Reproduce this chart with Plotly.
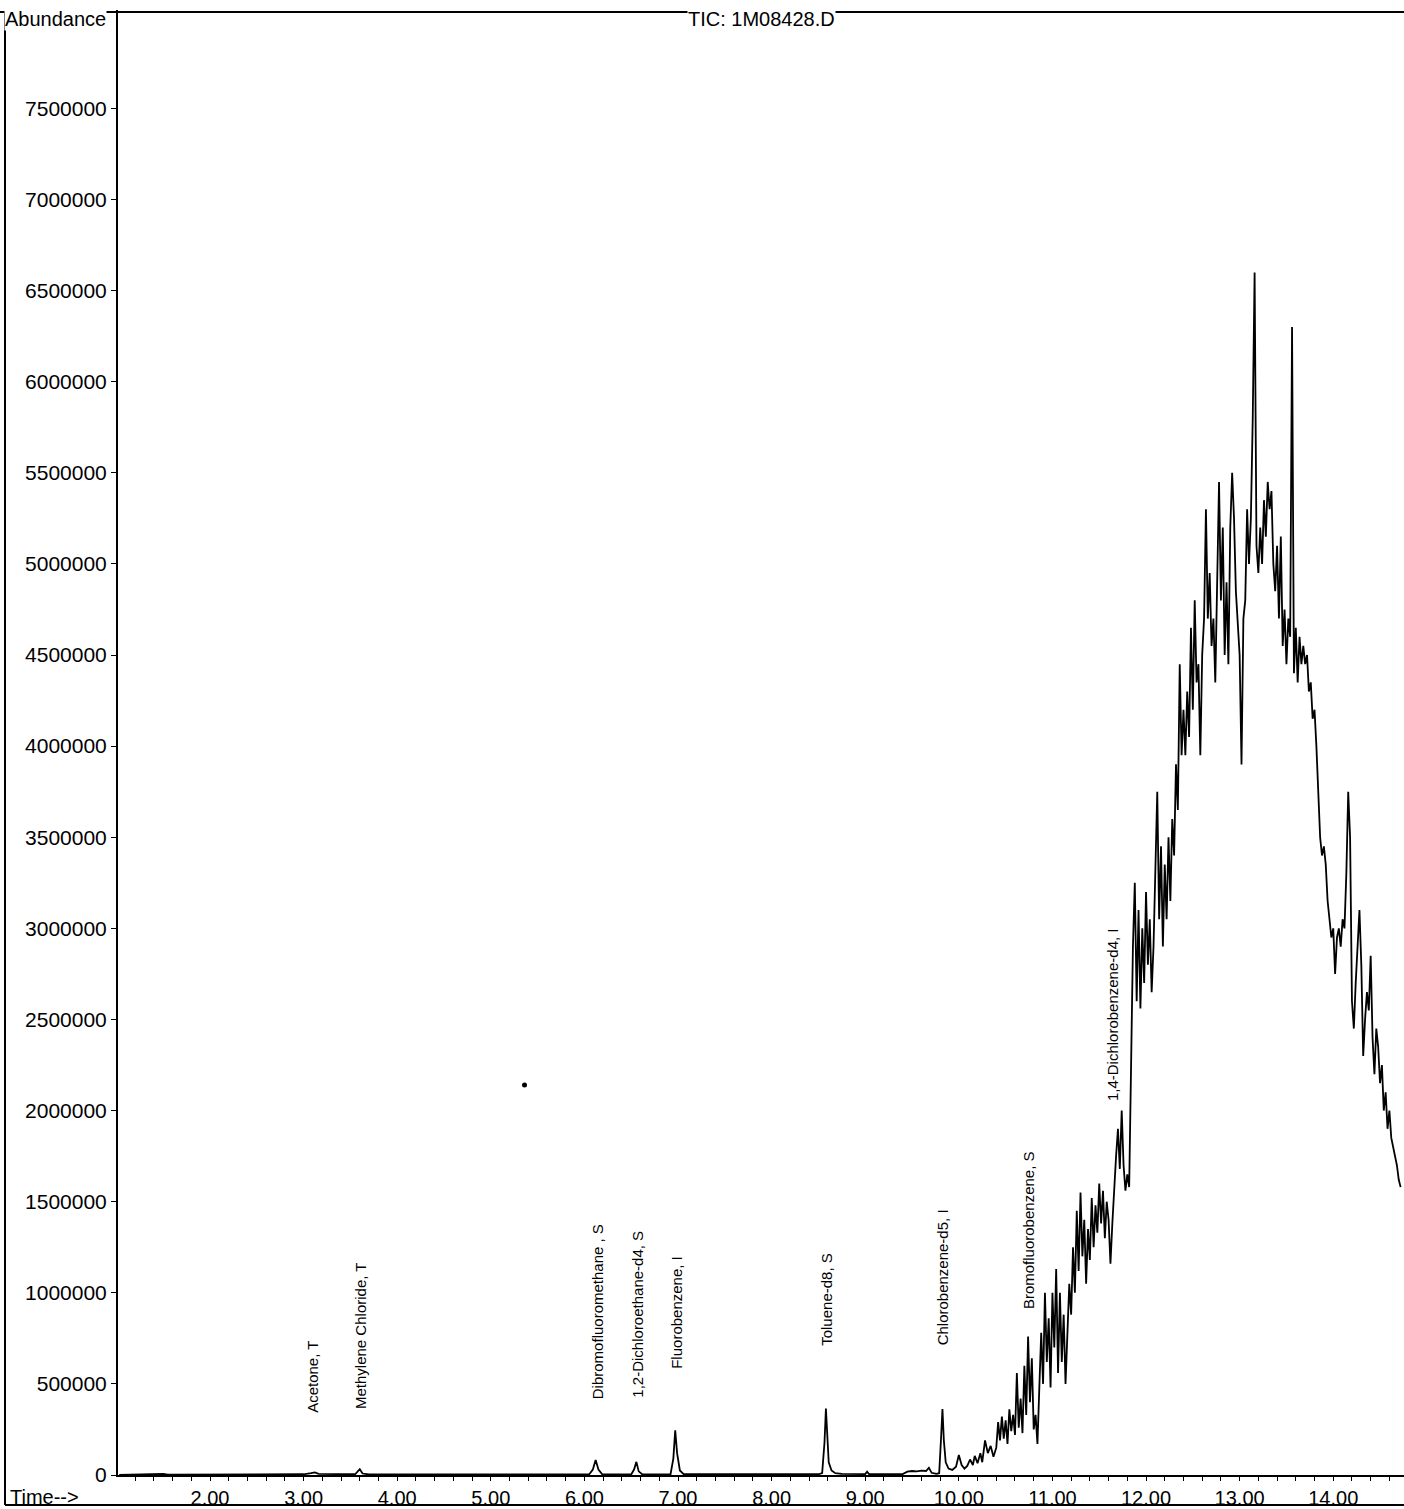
import plotly.graph_objects as go

# ---- total ion chromatogram, sparse early part: retention time (min) / abundance (x1000 counts)
early_time = [1.03, 1.40, 1.50, 1.55, 2.00, 2.20, 2.30, 2.85, 3.00, 3.08, 3.12, 3.16, 3.30, 3.40,
              3.55, 3.60, 3.63, 3.70, 4.50, 5.50, 6.05, 6.09, 6.12, 6.15, 6.19, 6.50, 6.53, 6.555,
              6.58, 6.62, 6.92, 6.95, 6.97, 6.99, 7.02, 7.06, 8.50, 8.54, 8.565, 8.58, 8.595, 8.61,
              8.64, 8.68, 8.75, 9.00, 9.02, 9.04, 9.40, 9.45, 9.50, 9.55, 9.60, 9.65, 9.68, 9.71,
              9.76, 9.79, 9.81, 9.825, 9.84, 9.86, 9.89, 9.93, 9.97, 10.00, 10.03, 10.06, 10.09,
              10.12, 10.15, 10.17, 10.20, 10.23, 10.25, 10.28, 10.31, 10.34, 10.37]
early_kcounts = [0, 3, 6, 2, 3, 6, 3, 5, 4, 10, 14, 6, 5, 3,
                 4, 32, 8, 3, 2, 2, 3, 30, 82, 30, 4, 3, 30, 72,
                 20, 3, 4, 90, 245, 120, 25, 5, 4, 10, 180, 365, 200, 70,
                 25, 10, 6, 5, 18, 5, 5, 18, 22, 20, 24, 22, 40, 12,
                 6, 10, 200, 362, 190, 70, 35, 28, 45, 110, 55, 35, 50,
                 85, 55, 105, 65, 120, 70, 190, 120, 160, 100]

# ---- dense part of the trace: one reading per scan, 0.02 min apart from 10.40 min (x1000 counts)
scan_start = 10.40
scan_step = 0.02
hump_kcounts = [
    150, 290, 190, 320, 200, 300, 170, 360, 240, 330,          # 10.40 - 10.58
    220, 560, 260, 420, 230, 600, 330, 760, 400, 640,          # 10.60 - 10.78
    250, 330, 170, 480, 780, 500, 1000, 620, 860, 480,         # 10.80 - 10.98
    1000, 700, 1130, 560, 1000, 620, 880, 500, 800, 1050,      # 11.00 - 11.18
    880, 1250, 1000, 1450, 1120, 1550, 1200, 1400, 1050, 1350, # 11.20 - 11.38
    1180, 1520, 1250, 1480, 1330, 1600, 1380, 1560, 1300, 1500,  # 11.40 - 11.58
    1400, 1160, 1380, 1600, 1750, 1900, 1680, 2000, 1700, 1560,  # 11.60 - 11.78
    1650, 1580, 2200, 2900, 3250, 2600, 3100, 2560, 3000, 2700,  # 11.80 - 11.98
    3200, 2800, 3050, 2650, 2900, 3300, 3750, 3050, 3450, 2900,  # 12.00 - 12.18
    3350, 3050, 3500, 3150, 3600, 3400, 3900, 3650, 4450, 3950,  # 12.20 - 12.38
    4200, 3950, 4300, 4050, 4650, 4200, 4800, 4350, 4450, 3950,  # 12.40 - 12.58
    4500, 4700, 5300, 4700, 4950, 4550, 4700, 4350, 4900, 5450,  # 12.60 - 12.78
    4800, 5200, 4500, 4900, 4450, 5200, 5500, 5250, 4850, 4700,  # 12.80 - 12.98
    4500, 3900, 4700, 4800, 5300, 5000, 5250, 5800, 6600, 5100,  # 13.00 - 13.18
    4950, 5200, 5000, 5350, 5150, 5450, 5300, 5400, 5000, 4850,  # 13.20 - 13.38
    5100, 4700, 5150, 4550, 4750, 4450, 4700, 4600, 6300, 4400,  # 13.40 - 13.58
    4650, 4350, 4600, 4450, 4550, 4450, 4500, 4300, 4350, 4150,  # 13.60 - 13.78
    4200, 4000, 3700, 3500, 3400, 3450, 3350, 3150, 3050, 2950,  # 13.80 - 13.98
    3000, 2750, 2950, 3000, 2900, 3050, 3000, 3300, 3750, 3500,  # 14.00 - 14.18
    2600, 2450, 2700, 2900, 3100, 2800, 2300, 2500, 2650, 2550,  # 14.20 - 14.38
    2850, 2400, 2200, 2450, 2350, 2150, 2250, 2000, 2100, 1900,  # 14.40 - 14.58
    2000, 1850, 1800, 1750, 1700, 1620, 1580,                    # 14.60 - 14.72
]
hump_time = [round(scan_start + scan_step * i, 2) for i in range(len(hump_kcounts))]

time_min = early_time + hump_time
abundance = [k * 1000 for k in early_kcounts + hump_kcounts]

# isolated speck on the record
speck_time = [5.36]
speck_abundance = [2140000]

# ---- peak identifications (name, retention time, abundance where the text begins)
compounds = ["Acetone, T", "Methylene Chloride, T", "Dibromofluoromethane , S",
             "1,2-Dichloroethane-d4, S", "Fluorobenzene, I", "Toluene-d8, S",
             "Chlorobenzene-d5, I", "Bromofluorobenzene, S", "1,4-Dichlorobenzene-d4, I"]
compound_time = [3.10, 3.60, 6.14, 6.57, 6.98, 8.59, 9.83, 10.74, 11.64]
label_base = [330000, 350000, 405000, 415000, 570000, 700000, 700000, 900000, 2040000]

x_ticks = [2, 3, 4, 5, 6, 7, 8, 9, 10, 11, 12, 13, 14]
y_ticks = [0, 500000, 1000000, 1500000, 2000000, 2500000, 3000000, 3500000,
           4000000, 4500000, 5000000, 5500000, 6000000, 6500000, 7000000, 7500000]

W, H = 1404, 1509
ML, MR, MT, MB = 118, 0, 10, 34
PW, PH = W - ML - MR, H - MT - MB
X_RANGE = [1.017, 14.756]
Y_RANGE = [0, 8040000]
FONT = "Liberation Sans, Arial, sans-serif"


def px(xpix):
    return (xpix - ML) / PW


def py(ypix):
    return (H - MB - ypix) / PH


fig = go.Figure()
fig.add_trace(go.Scatter(x=time_min, y=abundance, mode="lines",
                         line=dict(color="black", width=1.8), hoverinfo="skip",
                         showlegend=False))
fig.add_trace(go.Scatter(x=speck_time, y=speck_abundance, mode="markers",
                         marker=dict(color="black", size=5), hoverinfo="skip",
                         showlegend=False))

annotations = []
for name, t, base in zip(compounds, compound_time, label_base):
    annotations.append(dict(x=t, y=base, xref="x", yref="y", text=name, textangle=-90,
                            showarrow=False, xanchor="center", yanchor="bottom",
                            font=dict(family=FONT, size=15, color="black")))

annotations += [
    dict(x=px(4), y=py(7), xref="paper", yref="paper", text="Abundance", showarrow=False,
         xanchor="left", yanchor="top", bgcolor="white", borderpad=0,
         font=dict(family=FONT, size=20, color="black")),
    dict(x=px(687), y=py(7), xref="paper", yref="paper", text="TIC: 1M08428.D",
         showarrow=False, xanchor="left", yanchor="top", bgcolor="white", borderpad=0,
         font=dict(family=FONT, size=20, color="black")),
    dict(x=px(8), y=py(1484), xref="paper", yref="paper", text="Time-->", showarrow=False,
         xanchor="left", yanchor="top", font=dict(family=FONT, size=20, color="black")),
]

frame = dict(color="black", width=2)
shapes = [
    dict(type="line", xref="paper", yref="paper", x0=px(0), x1=px(W), y0=py(12), y1=py(12), line=frame, layer="below"),
    dict(type="line", xref="paper", yref="paper", x0=px(5), x1=px(5), y0=py(12), y1=py(1505), line=frame),
    dict(type="line", xref="paper", yref="paper", x0=px(5), x1=px(W), y0=py(1505), y1=py(1505), line=frame),
]

fig.update_layout(
    width=W, height=H,
    margin=dict(l=ML, r=MR, t=MT, b=MB),
    paper_bgcolor="white", plot_bgcolor="white",
    annotations=annotations, shapes=shapes,
    font=dict(family=FONT, color="black"),
    xaxis=dict(range=X_RANGE, tickvals=x_ticks, ticktext=[f"{v:.2f}" for v in x_ticks],
               showgrid=False, zeroline=False, showline=True, linecolor="black", linewidth=2,
               ticks="outside", ticklen=4, tickwidth=1.2, tickcolor="black",
               tickfont=dict(family=FONT, size=20, color="black"),
               minor=dict(dtick=0.2, tick0=0, ticks="outside", ticklen=4, tickcolor="black")),
    yaxis=dict(range=Y_RANGE, tickvals=y_ticks, ticktext=[str(v) for v in y_ticks],
               showgrid=False, zeroline=False, showline=True, linecolor="black", linewidth=2,
               ticks="outside", ticklen=5, tickwidth=1.2, tickcolor="black",
               tickfont=dict(family=FONT, size=21, color="black")),
)

# page without the browser's default body margin or scrollbars, so the figure fills the window exactly
page_css = "document.body.style.margin='0';document.body.style.overflow='hidden';"
fig.write_html("out.html", post_script=page_css)
